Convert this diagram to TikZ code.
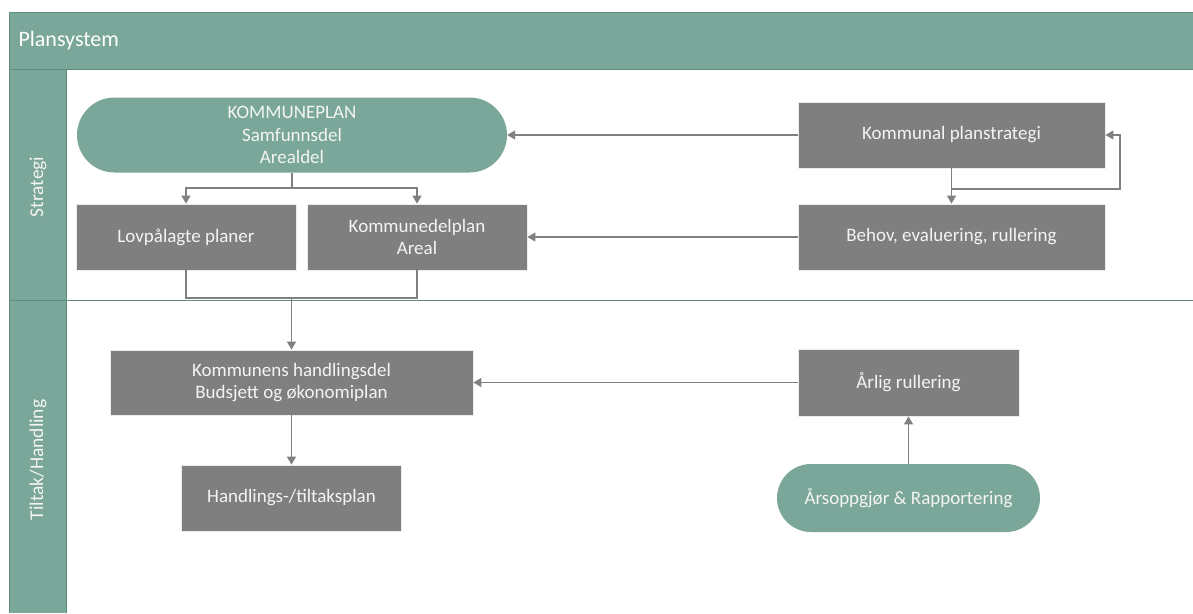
\documentclass[tikz,border=0pt]{standalone}
\usepackage{fontspec}
\setmainfont{Carlito}
\usetikzlibrary{arrows.meta}
\definecolor{teal1}{HTML}{7AA79A}
\definecolor{tealdark}{HTML}{5E8E80}
\definecolor{boxgray}{HTML}{7F7F7F}
\definecolor{linegray}{HTML}{808080}
\definecolor{txt}{HTML}{F4F4F4}
\begin{document}
\begin{tikzpicture}[x=1pt,y=-1pt,
  font=\fontsize{19}{22.5}\selectfont,
  graybox/.style={rectangle, fill=boxgray, draw=white!85!boxgray, line width=0.8pt, text=txt, align=center, inner sep=0pt},
  stadium/.style={rectangle, fill=teal1, text=txt, align=center, inner sep=0pt},
  conn/.style={draw=linegray, line width=1.3pt},
  arr/.style={conn, -{Triangle[width=9pt,length=8pt]}},
  lanelabel/.style={text=txt, rotate=90, font=\fontsize{19.5}{22}\selectfont}
]
\useasboundingbox (0,0) rectangle (1193,613);
\fill[white] (0,0) rectangle (1193,613);
% pool frame
\fill[teal1] (9,12) rectangle (1193,69);
\fill[teal1] (9,69) rectangle (66,613);
\draw[tealdark, line width=1pt] (1193,12) -- (9,12) -- (9,613);
\draw[tealdark, line width=1pt] (9,69) -- (1193,69);
\draw[tealdark, line width=1pt] (66,69) -- (66,613);
\draw[tealdark, line width=1pt] (9,300) -- (1193,300);
\node[anchor=west, text=white, font=\fontsize{22}{26}\selectfont] (title) at (15,40.5) {Plansystem};
\node[lanelabel] (lane1) at (38,187) {Strategi};
\node[lanelabel] (lane2) at (38,460) {Tiltak/Handling};
% nodes
\node[stadium, minimum width=430pt, minimum height=75pt, rounded corners=37.5pt] (kp) at (292,135) {KOMMUNEPLAN\\Samfunnsdel\\Arealdel};
\node[graybox, minimum width=220pt, minimum height=66pt] (lov) at (186,237) {Lovpålagte planer};
\node[graybox, minimum width=220pt, minimum height=66pt] (kdp) at (417,237) {Kommunedelplan\\Areal};
\node[graybox, minimum width=307pt, minimum height=66pt] (kps) at (951.5,135) {Kommunal planstrategi};
\node[graybox, minimum width=307pt, minimum height=66pt] (beh) at (951.5,237) {Behov, evaluering, rullering};
\node[graybox, minimum width=363pt, minimum height=65pt] (khd) at (291.5,382.5) {Kommunens handlingsdel\\Budsjett og økonomiplan};
\node[graybox, minimum width=220pt, minimum height=66pt] (htp) at (291.5,498) {Handlings-/tiltaksplan};
\node[graybox, minimum width=221pt, minimum height=67pt] (ar) at (908.5,382.5) {Årlig rullering};
\node[stadium, minimum width=263pt, minimum height=68pt, rounded corners=34pt] (aop) at (908.5,498) {Årsoppgjør \& Rapportering};
% connectors
\coordinate (s1) at (292,188);
\draw[conn] (kp.south) -- (s1);
\draw[arr] (s1) -| (lov.north);
\draw[arr] (s1) -| (kdp.north);
\coordinate (m1) at (291.5,298);
\draw[conn] (lov.south) |- (m1);
\draw[conn] (kdp.south) |- (m1);
\draw[arr] (m1) -- (khd.north);
\draw[arr] (khd.south) -- (htp.north);
\draw[arr] (kps.west) -- (kp.east);
\draw[arr] (beh.west) -- (kdp.east);
\draw[arr] (kps.south) -- (beh.north);
\coordinate (l1) at (951.5,189);
\coordinate (l2) at (1120,189);
\draw[arr] (l1) -- (l2) |- (kps.east);
\draw[arr] (aop.north) -- (ar.south);
\draw[arr] (ar.west) -- (khd.east);
\end{tikzpicture}
\end{document}
